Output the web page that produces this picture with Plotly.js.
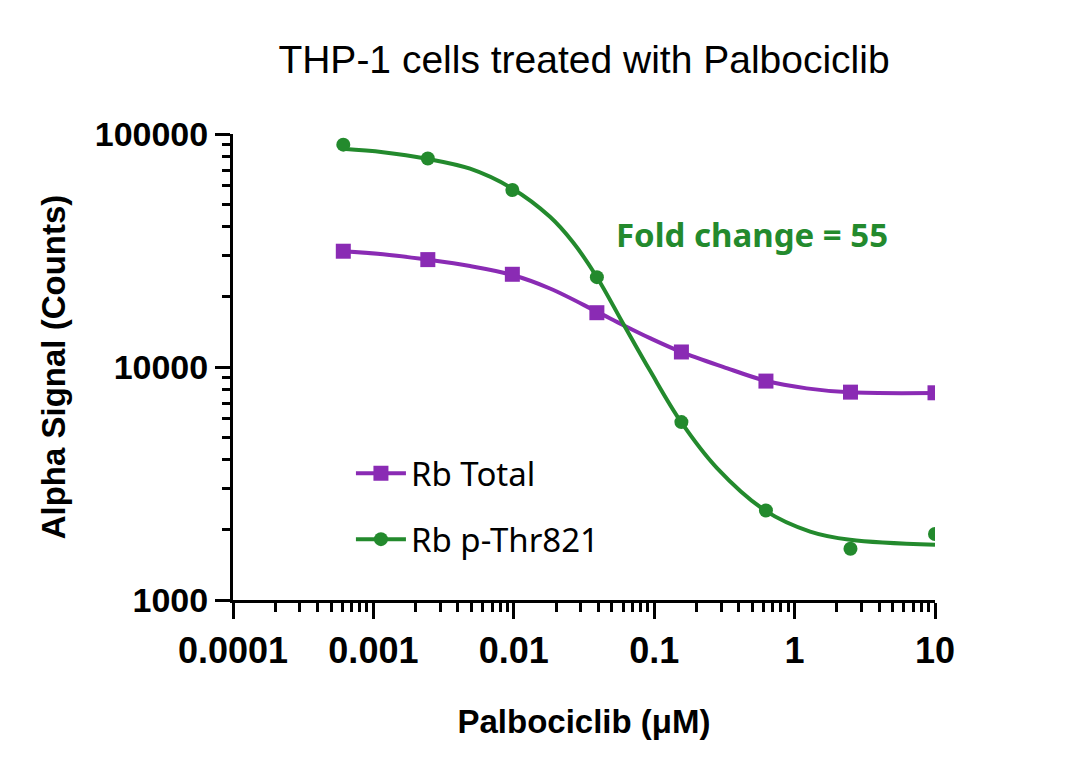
<!DOCTYPE html>
<html>
<head>
<meta charset="utf-8">
<script src="https://cdn.plot.ly/plotly-3.0.1.min.js"></script>
<style>html,body{margin:0;padding:0;background:#fff;}#chart{width:1080px;height:778px;}</style>
</head>
<body>
<div id="chart"></div>
<script>
// Measured data points (µM, counts)
const concentration = [0.0006103515625, 0.00244140625, 0.009765625, 0.0390625, 0.15625, 0.625, 2.5, 10];
const rbTotal = [31400, 28900, 25000, 17100, 11600, 8700, 7800, 7750];
const rbPThr821 = [90000, 78500, 57500, 24300, 5800, 2420, 1660, 1920];

// Fitted curves
const totalFitX = [0.000604, 0.00117, 0.0024, 0.00488, 0.00966, 0.0181, 0.039, 0.0603, 0.0933, 0.155, 0.309, 0.622, 1.22, 2.48, 10];
const totalFitY = [31380, 30460, 28900, 27130, 24880, 21720, 17280, 15120, 13300, 11620, 10020, 8727, 8097, 7784, 7732];
const phosFitX = [0.000604, 0.00117, 0.0024, 0.00488, 0.00966, 0.0181, 0.0264, 0.039, 0.0603, 0.0933, 0.155, 0.279, 0.622, 1.29, 2.48, 10];
const phosFitY = [86440, 83560, 78290, 70950, 58500, 44100, 34290, 24350, 15300, 9650, 5823, 3690, 2413, 1967, 1813, 1726];

const xTickVals = [0.0001, 0.001, 0.01, 0.1, 1, 10];
const xTickText = ['0.0001', '0.001', '0.01', '0.1', '1', '10'];
const yTickVals = [1000, 10000, 100000];
const yTickText = ['1000', '10000', '100000'];

const seriesNames = ['Rb Total', 'Rb p-Thr821'];
const purple = '#8A2BB4';
const green = '#238A2D';

const traces = [
  {x: totalFitX, y: totalFitY, mode: 'lines', line: {color: purple, width: 4, shape: 'spline', smoothing: 1}, showlegend: false, hoverinfo: 'skip'},
  {x: phosFitX, y: phosFitY, mode: 'lines', line: {color: green, width: 4, shape: 'spline', smoothing: 1}, showlegend: false, hoverinfo: 'skip'},
  {x: concentration, y: rbTotal, mode: 'markers', marker: {symbol: 'square', size: 15, color: purple}, showlegend: false},
  {x: concentration, y: rbPThr821, mode: 'markers', marker: {symbol: 'circle', size: 14, color: green}, showlegend: false},
  {x: [null], y: [null], name: seriesNames[0], legendgroup: 'a', mode: 'lines+markers', line: {color: purple, width: 4}, marker: {symbol: 'square', size: 15, color: purple}},
  {x: [null], y: [null], name: seriesNames[1], legendgroup: 'b', mode: 'lines+markers', line: {color: green, width: 4}, marker: {symbol: 'circle', size: 14, color: green}}
];

const layout = {
  width: 1080, height: 778,
  margin: {l: 233, r: 145, t: 134, b: 178},
  paper_bgcolor: '#fff', plot_bgcolor: '#fff',
  font: {family: 'Liberation Sans, Arial, sans-serif', color: '#000'},
  title: {text: 'THP-1 cells treated with Palbociclib', font: {family: 'Liberation Sans, Arial, sans-serif', size: 39, color: '#000'}, x: 0.5, xref: 'paper', xanchor: 'center', y: 0.924, yref: 'container', yanchor: 'middle'},
  xaxis: {
    type: 'log', range: [-4, 1], tickvals: xTickVals, ticktext: xTickText,
    ticks: 'outside', ticklen: 16, tickwidth: 3, tickcolor: '#000',
    showline: true, linewidth: 3, linecolor: '#000', showgrid: false, zeroline: false,
    tickfont: {family: 'Liberation Sans, Arial, sans-serif', size: 36, color: '#000', weight: 'bold'},
    ticklabelstandoff: 1,
    minor: {ticks: 'outside', ticklen: 9, tickwidth: 3, tickcolor: '#000', dtick: 'D1', showgrid: false},
    title: {text: 'Palbociclib (μM)', font: {family: 'Liberation Sans, Arial, sans-serif', size: 33, color: '#000', weight: 'bold'}, standoff: 40},
    automargin: false, fixedrange: true
  },
  yaxis: {
    type: 'log', range: [3, 5], tickvals: yTickVals, ticktext: yTickText,
    ticks: 'outside', ticklen: 15, tickwidth: 3, tickcolor: '#000',
    showline: true, linewidth: 3, linecolor: '#000', showgrid: false, zeroline: false,
    tickfont: {family: 'Liberation Sans, Arial, sans-serif', size: 34, color: '#000', weight: 'bold'},
    ticklabelstandoff: 0,
    minor: {ticks: 'outside', ticklen: 8, tickwidth: 3, tickcolor: '#000', dtick: 'D1', showgrid: false},
    title: {text: 'Alpha Signal (Counts)', font: {family: 'Liberation Sans, Arial, sans-serif', size: 33, color: '#000', weight: 'bold'}, standoff: 20},
    automargin: false, fixedrange: true
  },
  legend: {
    x: 0.168, y: 0.332, xanchor: 'left', yanchor: 'top', xref: 'paper', yref: 'paper',
    bgcolor: 'rgba(0,0,0,0)', borderwidth: 0,
    font: {family: 'Noto Sans, sans-serif', size: 33, color: '#000'},
    traceorder: 'grouped', tracegroupgap: 20, itemwidth: 50
  },
  annotations: [{
    text: 'Fold change = 55', xref: 'paper', yref: 'paper', x: 0.739, y: 0.784,
    xanchor: 'center', yanchor: 'middle', showarrow: false,
    font: {family: 'Noto Sans, sans-serif', size: 33, color: green, weight: 'bold'}
  }]
};

Plotly.newPlot('chart', traces, layout, {displayModeBar: false, staticPlot: true});
</script>
</body>
</html>
